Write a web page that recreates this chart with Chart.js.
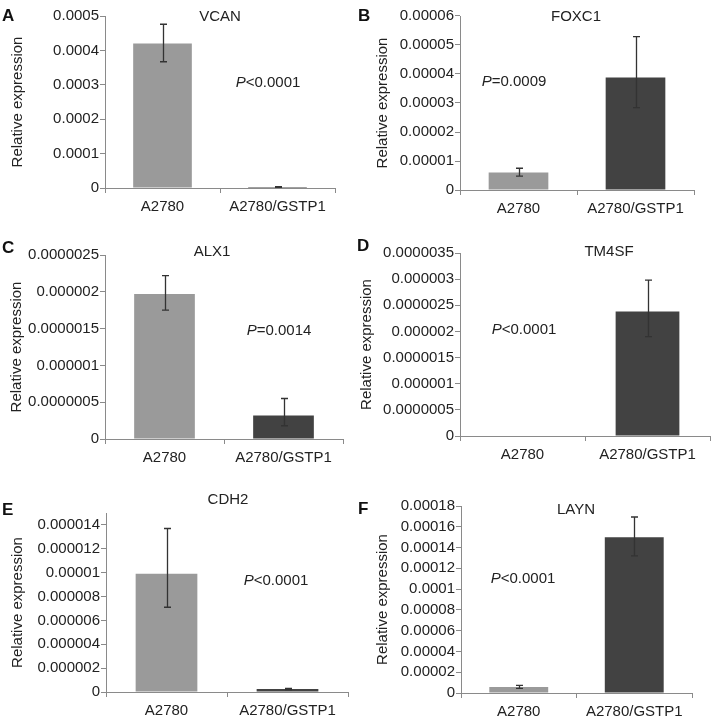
<!DOCTYPE html>
<html>
<head>
<meta charset="utf-8">
<script src="https://cdn.jsdelivr.net/npm/chart.js@4.4.1/dist/chart.umd.min.js"></script>
<style>
  body { margin: 0; background: #fff; }
  #wrap { position: relative; width: 711px; height: 719px; overflow: hidden; font-family: "Liberation Sans", Arial, sans-serif; color: #222; }
  canvas { position: absolute; }
  .txt { position: absolute; font-size: 15px; white-space: nowrap; transform: translate(-50%, -50%); line-height: 1; }
  .letter { position: absolute; font-size: 17px; font-weight: bold; line-height: 1; color: #111; }
</style>
</head>
<body>
<div id="wrap"></div>
<script>
// data
const groups = ['A2780', 'A2780/GSTP1'];
const genes = ['VCAN', 'FOXC1', 'ALX1', 'TM4SF', 'CDH2', 'LAYN'];
const letters = ['A', 'B', 'C', 'D', 'E', 'F'];
const pLabels = ['<0.0001', '=0.0009', '=0.0014', '<0.0001', '<0.0001', '<0.0001'];

const meanA2780 = [0.00042, 0.000006, 0.00000197, 0.00000001, 0.0000099, 0.0000058];
const hiA2780   = [0.000476, 0.0000075, 0.00000222, 0, 0.0000137, 0.0000073];
const loA2780   = [0.000367, 0.0000048, 0.00000175, 0, 0.0000071, 0.0000044];
const meanGSTP1 = [0.000003, 0.0000388, 0.00000032, 0.00000238, 0.00000025, 0.00015];
const hiGSTP1   = [0.000004, 0.0000529, 0.00000055, 0.00000298, 0.0000003, 0.0001694];
const loGSTP1   = [0.000002, 0.0000284, 0.00000018, 0.0000019, 0.0000002, 0.000132];

const yMax  = [0.0005, 0.00006, 0.0000025, 0.0000035, 0.000015, 0.00018];
const yStep = [0.0001, 0.00001, 0.0000005, 0.0000005, 0.000002, 0.00002];
const yLabelMax = [0.0005, 0.00006, 0.0000025, 0.0000035, 0.000014, 0.00018];

// layout: canvas box and chart area (page pixels)
const boxes = [
  {x: 0,   y: 0,   w: 355, h: 235, left: 105, top: 16,  right: 335, bottom: 188, titlePad: 9},
  {x: 355, y: 0,   w: 356, h: 235, left: 460, top: 16,  right: 694, bottom: 190, titlePad: 19},
  {x: 0,   y: 235, w: 355, h: 240, left: 105, top: 255, right: 343, bottom: 439, titlePad: 8},
  {x: 355, y: 235, w: 356, h: 240, left: 460, top: 253, right: 710, bottom: 436, titlePad: 3},
  {x: 0,   y: 475, w: 355, h: 244, left: 106, top: 513, right: 348, bottom: 692, titlePad: 9},
  {x: 355, y: 475, w: 356, h: 244, left: 461, top: 506, right: 692, bottom: 693, titlePad: 19}
];
const geneTitlePos = [[220, 15], [576, 15], [212, 250], [609, 250], [228, 498], [576, 508]];
const pPos = [[268, 81], [514, 80], [279, 329], [524, 328], [276, 579], [523, 577]];
const letterPos = [[2, 7], [358, 7], [2, 239], [357, 237], [2, 501], [358, 500]];

const wrap = document.getElementById('wrap');
const axisColor = '#8a8a8a';
const font = { family: '"Liberation Sans", Arial, sans-serif', size: 15 };

function fmt(v) {
  if (Math.abs(v) < 1e-12) return '0';
  return v.toFixed(8).replace(/0+$/, '').replace(/\.$/, '');
}

const errorBars = {
  id: 'errorBars',
  afterDatasetsDraw(chart) {
    const ds = chart.data.datasets[0];
    const meta = chart.getDatasetMeta(0);
    const y = chart.scales.y;
    const ctx = chart.ctx;
    ctx.save();
    ctx.strokeStyle = '#333';
    ctx.lineWidth = 1.3;
    meta.data.forEach((bar, i) => {
      const hi = ds.hi[i], lo = ds.lo[i];
      if (!hi) return;
      const top = y.getPixelForValue(hi);
      const bot = y.getPixelForValue(lo);
      const x = Math.round(bar.x) + 0.5;
      ctx.beginPath();
      ctx.moveTo(x, top); ctx.lineTo(x, bot);
      ctx.moveTo(x - 3.5, top); ctx.lineTo(x + 3.5, top);
      ctx.moveTo(x - 3.5, bot); ctx.lineTo(x + 3.5, bot);
      ctx.stroke();
    });
    ctx.restore();
  }
};

genes.forEach((gene, i) => {
  const b = boxes[i];
  const cv = document.createElement('canvas');
  cv.width = b.w; cv.height = b.h;
  cv.style.left = b.x + 'px'; cv.style.top = b.y + 'px';
  cv.style.width = b.w + 'px'; cv.style.height = b.h + 'px';
  wrap.appendChild(cv);

  new Chart(cv, {
    type: 'bar',
    data: {
      labels: groups,
      datasets: [{
        data: [meanA2780[i], meanGSTP1[i]],
        hi: [hiA2780[i], hiGSTP1[i]],
        lo: [loA2780[i], loGSTP1[i]],
        backgroundColor: ['#9a9a9a', '#424242'],
        borderWidth: 0,
        barPercentage: 0.51,
        categoryPercentage: 1
      }]
    },
    options: {
      responsive: false,
      animation: false,
      devicePixelRatio: 1,
      layout: { padding: { top: b.top - b.y, right: b.x + b.w - b.right, left: 0, bottom: 0 } },
      plugins: { legend: { display: false }, tooltip: { enabled: false } },
      scales: {
        x: {
          grid: { display: true, drawOnChartArea: false, drawTicks: true, tickLength: 5, color: axisColor, offset: true },
          border: { display: true, color: axisColor, width: 1 },
          ticks: { font: font, color: '#222', padding: 5, autoSkip: false, maxRotation: 0 },
          afterFit(scale) { scale.height = b.y + b.h - b.bottom; }
        },
        y: {
          min: 0,
          max: yMax[i],
          grid: { display: true, drawOnChartArea: false, drawTicks: true, tickLength: 5, color: axisColor },
          border: { display: true, color: axisColor, width: 1 },
          ticks: { stepSize: yStep[i], autoSkip: false, font: font, color: '#222', padding: 1, callback: v => fmt(v) },
          title: { display: true, text: 'Relative expression', font: font, color: '#222', padding: { top: b.titlePad, bottom: 0 } },
          afterBuildTicks(scale) {
            const ticks = [];
            for (let k = 0; k * yStep[i] <= yLabelMax[i] * 1.0001; k++) ticks.push({ value: k * yStep[i] });
            scale.ticks = ticks;
          },
          afterFit(scale) { scale.width = b.left - b.x; }
        }
      }
    },
    plugins: [errorBars]
  });

  const t = document.createElement('div');
  t.className = 'txt';
  t.textContent = gene;
  t.style.left = geneTitlePos[i][0] + 'px';
  t.style.top = geneTitlePos[i][1] + 'px';
  wrap.appendChild(t);

  const p = document.createElement('div');
  p.className = 'txt';
  p.innerHTML = '<i>P</i>' + pLabels[i];
  p.style.left = pPos[i][0] + 'px';
  p.style.top = pPos[i][1] + 'px';
  wrap.appendChild(p);

  const l = document.createElement('div');
  l.className = 'letter';
  l.textContent = letters[i];
  l.style.left = letterPos[i][0] + 'px';
  l.style.top = letterPos[i][1] + 'px';
  wrap.appendChild(l);
});
</script>
</body>
</html>
